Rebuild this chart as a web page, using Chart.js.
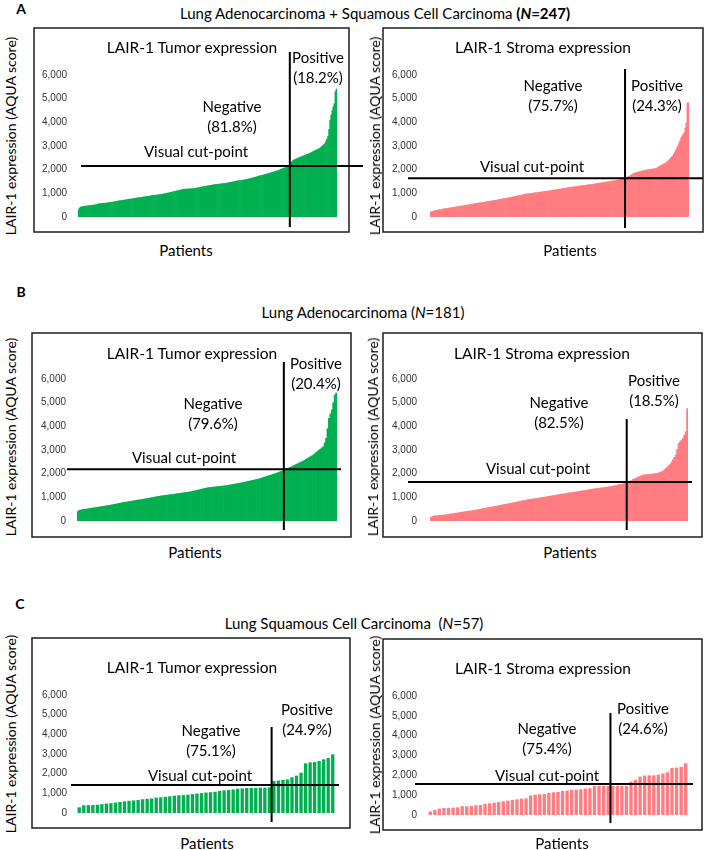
<!DOCTYPE html>
<html>
<head>
<meta charset="utf-8">
<script src="https://cdn.jsdelivr.net/npm/chart.js@4.4.1/dist/chart.umd.min.js"></script>
<style>
body{margin:0;background:#fff;}
#page{position:relative;width:707px;height:850px;overflow:hidden;font-family:Lato,"Open Sans",sans-serif;color:#000;}
.t{position:absolute;transform:translate(-50%,-50%);white-space:nowrap;line-height:1;}
.yt{position:absolute;transform:translate(-50%,-50%) rotate(-90deg);white-space:nowrap;line-height:1;}
canvas{position:absolute;}
</style>
</head>
<body>
<div id="page"></div>
<script>
// sorted LAIR-1 AQUA scores, one value per patient
const tumorAll = [300, 380, 415, 430, 440, 448, 452, 458, 462, 468,
 475, 480, 486, 493, 500, 508, 517, 528, 540, 550,
 560, 563, 567, 571, 576, 582, 588, 594, 600, 605,
 610, 617, 626, 634, 642, 651, 659, 668, 676, 683,
 690, 697, 703, 709, 716, 724, 731, 740, 748, 754,
 760, 768, 775, 780, 787, 795, 803, 810, 815, 822,
 830, 838, 845, 850, 857, 866, 873, 878, 885, 893,
 900, 905, 911, 918, 925, 930, 935, 942, 949, 955,
 960, 971, 982, 990, 1001, 1012, 1020, 1030, 1042, 1051,
 1060, 1072, 1083, 1092, 1104, 1116, 1125, 1138, 1149, 1160,
 1170, 1172, 1175, 1178, 1181, 1184, 1188, 1190, 1194, 1197,
 1200, 1208, 1219, 1226, 1235, 1246, 1253, 1262, 1273, 1281,
 1290, 1297, 1305, 1315, 1321, 1330, 1339, 1345, 1355, 1362,
 1370, 1374, 1380, 1384, 1391, 1395, 1399, 1406, 1410, 1416,
 1420, 1430, 1437, 1448, 1455, 1464, 1475, 1482, 1491, 1502,
 1510, 1516, 1525, 1530, 1539, 1544, 1551, 1560, 1565, 1574,
 1580, 1593, 1603, 1617, 1627, 1641, 1650, 1665, 1675, 1689,
 1700, 1711, 1725, 1735, 1749, 1759, 1773, 1783, 1797, 1807,
 1820, 1833, 1849, 1861, 1877, 1889, 1905, 1917, 1933, 1945,
 1960, 1976, 1995, 2010, 2029, 2044, 2063, 2078, 2097, 2112,
 2130, 2148, 2170, 2310, 2370, 2400, 2418, 2441, 2459, 2482,
 2500, 2517, 2537, 2553, 2573, 2589, 2609, 2625, 2645, 2661,
 2680, 2701, 2725, 2745, 2769, 2789, 2813, 2833, 2857, 2877,
 2900, 2938, 2982, 3018, 3062, 3100, 3210, 3290, 3410, 3690,
 4100, 4310, 4490, 4660, 4790, 5300, 5400];
const stromaAll = [200, 225, 240, 250, 262, 271, 280, 290, 298, 306,
 318, 327, 335, 342, 350, 358, 364, 372, 379, 386,
 394, 401, 408, 415, 422, 430, 437, 443, 450, 458,
 466, 473, 481, 489, 497, 505, 513, 521, 530, 537,
 545, 552, 560, 568, 575, 582, 589, 597, 604, 611,
 618, 625, 633, 640, 647, 654, 661, 669, 676, 683,
 690, 698, 707, 715, 724, 732, 740, 749, 757, 766,
 774, 782, 791, 799, 808, 816, 825, 834, 843, 853,
 862, 871, 880, 890, 899, 908, 918, 927, 936, 946,
 955, 965, 971, 978, 984, 991, 997, 1003, 1010, 1016,
 1023, 1029, 1035, 1041, 1047, 1053, 1059, 1065, 1072, 1078,
 1085, 1092, 1099, 1106, 1113, 1120, 1127, 1134, 1141, 1148,
 1155, 1162, 1168, 1175, 1182, 1189, 1196, 1204, 1211, 1218,
 1225, 1232, 1239, 1247, 1254, 1261, 1268, 1275, 1283, 1290,
 1296, 1302, 1308, 1314, 1320, 1326, 1332, 1338, 1344, 1350,
 1356, 1362, 1368, 1374, 1380, 1385, 1392, 1399, 1406, 1413,
 1420, 1427, 1434, 1441, 1448, 1455, 1462, 1470, 1478, 1486,
 1493, 1500, 1508, 1516, 1524, 1532, 1540, 1548, 1556, 1564,
 1571, 1578, 1586, 1593, 1600, 1621, 1641, 1660, 1690, 1715,
 1740, 1765, 1790, 1815, 1840, 1860, 1880, 1892, 1903, 1914,
 1925, 1936, 1947, 1958, 1969, 1980, 1990, 1996, 2002, 2008,
 2014, 2020, 2026, 2032, 2038, 2045, 2070, 2100, 2130, 2155,
 2180, 2205, 2230, 2255, 2280, 2300, 2345, 2390, 2440, 2490,
 2535, 2580, 2660, 2740, 2820, 2910, 3000, 3110, 3230, 3350,
 3420, 3490, 3560, 3760, 3980, 4820, 4820];
const tumorAdeno = [395, 440, 465, 475, 484, 493, 502, 512, 524, 535,
 544, 553, 563, 572, 582, 592, 602, 612, 622, 632,
 641, 650, 661, 672, 684, 696, 708, 720, 733, 746,
 758, 769, 779, 789, 800, 810, 820, 830, 843, 856,
 866, 876, 885, 893, 900, 911, 923, 934, 946, 957,
 969, 981, 993, 1004, 1016, 1028, 1040, 1048, 1056, 1064,
 1073, 1081, 1090, 1098, 1106, 1115, 1123, 1132, 1140, 1149,
 1158, 1167, 1176, 1185, 1194, 1203, 1212, 1221, 1230, 1240,
 1254, 1268, 1283, 1297, 1311, 1326, 1340, 1354, 1368, 1382,
 1396, 1410, 1417, 1423, 1430, 1437, 1443, 1450, 1457, 1463,
 1470, 1477, 1483, 1490, 1501, 1512, 1523, 1534, 1545, 1556,
 1567, 1578, 1589, 1600, 1610, 1624, 1638, 1651, 1665, 1679,
 1692, 1706, 1720, 1734, 1748, 1761, 1775, 1795, 1814, 1834,
 1853, 1873, 1893, 1912, 1932, 1951, 1971, 1990, 2010, 2034,
 2058, 2083, 2107, 2131, 2155, 2183, 2211, 2240, 2268, 2297,
 2325, 2355, 2385, 2415, 2445, 2475, 2505, 2535, 2571, 2608,
 2644, 2681, 2717, 2754, 2790, 2840, 2890, 2940, 2990, 3040,
 3090, 3140, 3300, 3490, 3900, 4340, 4520, 4690, 5000, 5320, 5400];
const stromaAdeno = [140, 180, 210, 218, 224, 229, 235, 240, 245, 250,
 259, 268, 278, 287, 297, 306, 315, 325, 334, 344,
 354, 365, 374, 383, 392, 401, 410, 419, 428, 437,
 446, 456, 465, 477, 489, 500, 512, 524, 535, 547,
 559, 570, 582, 594, 605, 617, 629, 640, 652, 664,
 675, 687, 699, 710, 722, 734, 745, 758, 770, 783,
 796, 809, 822, 834, 847, 860, 872, 885, 895, 904,
 914, 923, 933, 942, 952, 962, 971, 981, 990, 1000,
 1010, 1021, 1031, 1042, 1052, 1063, 1073, 1083, 1094, 1104,
 1115, 1125, 1135, 1144, 1154, 1164, 1173, 1183, 1192, 1202,
 1211, 1221, 1230, 1240, 1250, 1260, 1270, 1280, 1290, 1300,
 1310, 1320, 1330, 1340, 1350, 1358, 1367, 1375, 1383, 1392,
 1400, 1408, 1417, 1425, 1433, 1442, 1450, 1463, 1476, 1490,
 1503, 1516, 1530, 1543, 1556, 1570, 1583, 1596, 1610, 1645,
 1680, 1715, 1760, 1786, 1811, 1837, 1863, 1889, 1914, 1940,
 1947, 1954, 1961, 1968, 1975, 1982, 1989, 1996, 2003, 2010,
 2035, 2060, 2085, 2110, 2166, 2222, 2278, 2334, 2390, 2490,
 2590, 2690, 2790, 3030, 3280, 3350, 3420, 3490, 3630, 3775, 4750];
const tumorSquam = [290, 390, 400, 405, 420, 450, 480, 500, 530, 560,
 590, 620, 640, 660, 700, 720, 740, 780, 800, 820,
 850, 880, 900, 910, 930, 960, 990, 1010, 1040, 1060,
 1080, 1120, 1150, 1170, 1200, 1230, 1250, 1270, 1270, 1280,
 1290, 1290, 1300, 1630, 1650, 1680, 1710, 1815, 1900, 2050,
 2525, 2575, 2590, 2645, 2730, 2800, 2980];
const stromaSquam = [170, 250, 320, 355, 355, 370, 385, 440, 440, 455,
 490, 505, 555, 590, 625, 655, 690, 725, 760, 790,
 825, 840, 990, 1025, 1045, 1060, 1110, 1145, 1160, 1210,
 1230, 1265, 1280, 1295, 1330, 1345, 1465, 1465, 1465, 1465,
 1465, 1465, 1465, 1465, 1685, 1770, 1935, 1990, 2000, 2000,
 2035, 2090, 2155, 2375, 2390, 2425, 2610];

const cutValues = [2150, 1640, 2190, 1645, 1420, 1565];
const cutIndex = [202, 186, 144, 138, 43, 40];
const negPct = ['(81.8%)', '(75.7%)', '(79.6%)', '(82.5%)', '(75.1%)', '(75.4%)'];
const posPct = ['(18.2%)', '(24.3%)', '(20.4%)', '(18.5%)', '(24.9%)', '(24.6%)'];
const tickValues = [0, 1000, 2000, 3000, 4000, 5000, 6000];
const groupTitles = [
    'Lung Adenocarcinoma + Squamous Cell Carcinoma <b>(<i>N</i>=247)</b>',
    'Lung Adenocarcinoma (<i>N</i>=181)',
    'Lung Squamous Cell Carcinoma&nbsp; (<i>N</i>=57)'
];
const groupLetters = ['A', 'B', 'C'];

const page = document.getElementById('page');
const tumorColor = '#00B050';
const stromaColor = '#FF7C80';

function addText(html, x, y, css, cls) {
    const d = document.createElement('div');
    d.className = cls || 't';
    d.innerHTML = html;
    d.style.left = x + 'px';
    d.style.top = y + 'px';
    d.style.cssText += css || '';
    page.appendChild(d);
}

const panels = [
    {data: tumorAll, color: tumorColor, name: 'LAIR-1 Tumor expression',
     box: [34, 28, 315, 204], area: [78, 75, 337, 217], cv: [30, 24, 338, 212],
     hLine: [81, 363], vLine: [52, 227], tickPad: 11, barPct: 1,
     title: [192, 48], posAt: [318, 57], negAt: [232, 106], cutAt: [196, 151], yTitle: [11, 136], patients: [186, 250]},
    {data: stromaAll, color: stromaColor, name: 'LAIR-1 Stroma expression',
     box: [383, 28, 320, 204], area: [430, 75, 689, 218], cv: [380, 24, 327, 212],
     hLine: [408, 703], vLine: [69, 228], tickPad: 13, barPct: 1,
     title: [543, 48], posAt: [657, 85], negAt: [553, 85], cutAt: [532, 166], yTitle: [375, 136], patients: [570, 250]},
    {data: tumorAdeno, color: tumorColor, name: 'LAIR-1 Tumor expression',
     box: [32, 333, 319, 204], area: [77, 379, 337, 521], cv: [28, 329, 340, 212],
     hLine: [67, 341], vLine: [362, 530], tickPad: 11, barPct: 1,
     title: [192, 354], posAt: [316, 363], negAt: [213, 403], cutAt: [184, 457], yTitle: [11, 437], patients: [195, 552]},
    {data: stromaAdeno, color: stromaColor, name: 'LAIR-1 Stroma expression',
     box: [383, 333, 319, 204], area: [430, 379, 688, 521], cv: [380, 329, 327, 212],
     hLine: [408, 692], vLine: [419, 530], tickPad: 13, barPct: 1,
     title: [542, 354], posAt: [654, 380], negAt: [559, 402], cutAt: [538, 468], yTitle: [373, 437], patients: [570, 552]},
    {data: tumorSquam, color: tumorColor, name: 'LAIR-1 Tumor expression',
     box: [32, 638, 318, 190], area: [77, 695, 335, 813], cv: [28, 634, 340, 198],
     hLine: [71, 339], vLine: [727, 822], tickPad: 10, barPct: 0.74,
     title: [192, 668], posAt: [307, 709], negAt: [211, 730], cutAt: [200, 775], yTitle: [11, 734], patients: [207, 843]},
    {data: stromaSquam, color: stromaColor, name: 'LAIR-1 Stroma expression',
     box: [383, 639, 319, 191], area: [428, 696, 688, 815], cv: [380, 635, 327, 199],
     hLine: [415, 693], vLine: [713, 823], tickPad: 11, barPct: 0.74,
     title: [543, 669], posAt: [643, 708], negAt: [547, 728], cutAt: [547, 775], yTitle: [375, 735], patients: [562, 843]}
];

const cutLines = {
    id: 'cutLines',
    afterDatasetsDraw(chart, args, o) {
        const ctx = chart.ctx;
        const xs = chart.scales.x;
        const ys = chart.scales.y;
        ctx.save();
        ctx.strokeStyle = '#1e1e1e';
        ctx.lineWidth = 1.5;
        ctx.strokeRect(o.box[0] - o.ox, o.box[1] - o.oy, o.box[2], o.box[3]);
        ctx.strokeStyle = '#000';
        ctx.lineWidth = 2;
        const cy = ys.getPixelForValue(o.cut);
        const cx = xs.getPixelForValue(o.idx - 0.5);
        ctx.beginPath();
        ctx.moveTo(o.hLine[0] - o.ox, cy);
        ctx.lineTo(o.hLine[1] - o.ox, cy);
        ctx.moveTo(cx, o.vLine[0] - o.oy);
        ctx.lineTo(cx, o.vLine[1] - o.oy);
        ctx.stroke();
        ctx.restore();
    }
};

groupLetters.forEach((l, i) => {
    const at = [[21, 9], [21, 292], [20, 604]][i];
    addText(l, at[0], at[1], 'font-weight:bold;font-size:14px;');
});
addText(groupTitles[0], 375, 13, 'font-size:15px;');
addText(groupTitles[1], 363, 312, 'font-size:15px;');
addText(groupTitles[2], 354, 623, 'font-size:15px;');

panels.forEach((p, i) => {
    const yW = 40;
    const canvas = document.createElement('canvas');
    canvas.width = p.cv[2];
    canvas.height = p.cv[3];
    canvas.style.left = p.cv[0] + 'px';
    canvas.style.top = p.cv[1] + 'px';
    page.appendChild(canvas);

    new Chart(canvas.getContext('2d'), {
        type: 'bar',
        data: {
            labels: p.data.map((v, k) => k + 1),
            datasets: [{
                data: p.data,
                backgroundColor: p.color,
                borderWidth: 0,
                barPercentage: p.barPct,
                categoryPercentage: 1
            }]
        },
        options: {
            responsive: false,
            animation: false,
            devicePixelRatio: 1,
            layout: {
                padding: {
                    left: p.area[0] - p.cv[0] - yW,
                    top: p.area[1] - p.cv[1],
                    right: p.cv[0] + p.cv[2] - p.area[2],
                    bottom: p.cv[1] + p.cv[3] - p.area[3]
                }
            },
            plugins: {
                legend: {display: false},
                tooltip: {enabled: false},
                cutLines: {
                    box: p.box, ox: p.cv[0], oy: p.cv[1], cut: cutValues[i], idx: cutIndex[i],
                    hLine: p.hLine, vLine: p.vLine
                }
            },
            scales: {
                x: {display: false, offset: true, grid: {display: false}},
                y: {
                    min: 0,
                    max: 6000,
                    afterBuildTicks: s => { s.ticks = tickValues.map(v => ({value: v})); },
                    afterFit: s => { s.width = yW; },
                    grid: {display: false, drawTicks: false},
                    border: {display: false},
                    ticks: {
                        padding: p.tickPad,
                        color: '#333',
                        font: {family: '"Liberation Sans", Arial, sans-serif', size: 10},
                        callback: v => v.toLocaleString('en-US')
                    }
                }
            }
        },
        plugins: [cutLines]
    });

    addText(p.name, p.title[0], p.title[1], 'font-size:15.5px;');
    addText('Positive<br>' + posPct[i], p.posAt[0], p.posAt[1] + 10, 'font-size:15px;line-height:20px;text-align:center;');
    addText('Negative<br>' + negPct[i], p.negAt[0], p.negAt[1] + 10, 'font-size:15px;line-height:20px;text-align:center;');
    addText('Visual cut-point', p.cutAt[0], p.cutAt[1], 'font-size:15px;');
    addText('LAIR-1 expression (AQUA score)', p.yTitle[0], p.yTitle[1], 'font-size:14px;', 'yt');
    addText('Patients', p.patients[0], p.patients[1], 'font-size:15px;');
});
</script>
</body>
</html>
